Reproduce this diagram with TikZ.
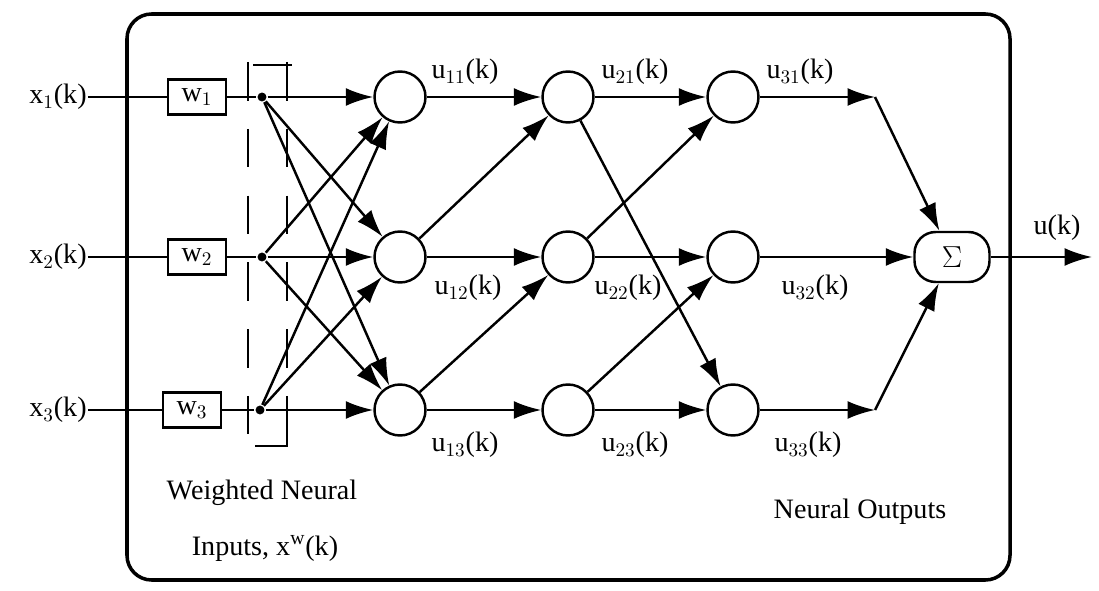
\documentclass[tikz,border=0pt]{standalone}
\usepackage{fontspec}
\setmainfont{Liberation Serif}
\usetikzlibrary{arrows.meta}
\begin{document}
\begin{tikzpicture}[x=0.02cm,y=-0.02cm, >={Latex[length=5.5mm,width=3.6mm]}, line width=1.4pt,
  neuron/.style={draw, circle, minimum size=1.02cm, inner sep=0pt},
  wbox/.style={draw, minimum width=1.15cm, minimum height=0.7cm, inner sep=0pt},
  lbl/.style={font=\fontsize{16}{18}\selectfont, inner sep=0pt},
  junc/.style={fill=black, circle, inner sep=1.8pt}]

\useasboundingbox (0,0) rectangle (1099,591);
%\draw [lightgray, dashed](0,0) grid (1099,591);

\draw [line width=2pt, rounded corners=14pt] (127,14) rectangle (1010,580);

% inputs and weights
\node [lbl] (X1) at (58,97) {x$_1$(k)};
\node [lbl] (X2) at (58,257) {x$_2$(k)};
\node [lbl] (X3) at (58,410) {x$_3$(k)};
\node [wbox] (W1) at (197,97) {\fontsize{16}{18}\selectfont w$_1$};
\node [wbox] (W2) at (197,257) {\fontsize{16}{18}\selectfont w$_2$};
\node [wbox] (W3) at (192,410) {\fontsize{16}{18}\selectfont w$_3$};
\node [junc] (J1) at (262,97) {};
\node [junc] (J2) at (262,257) {};
\node [junc] (J3) at (260,410) {};

% neurons
\node [neuron] (A1) at (400,97) {};
\node [neuron] (A2) at (400,257) {};
\node [neuron] (A3) at (400,410) {};
\node [neuron] (B1) at (568,97) {};
\node [neuron] (B2) at (568,257) {};
\node [neuron] (B3) at (568,410) {};
\node [neuron] (C1) at (733,97) {};
\node [neuron] (C2) at (733,257) {};
\node [neuron] (C3) at (733,410) {};
\node [draw, rounded corners=12pt, minimum width=1.5cm, minimum height=1cm] (S) at (952,257) {\fontsize{16}{18}\selectfont $\Sigma$};
\coordinate (K1) at (875,97);
\coordinate (K3) at (875,410);
\coordinate (Y) at (1092,257);

\draw (X1) -- (W1);
\draw (X2) -- (W2);
\draw (X3) -- (W3);
\draw (W1) -- (J1);
\draw (W2) -- (J2);
\draw (W3) -- (J3);

\foreach \i in {1,2,3}
  \foreach \j in {1,2,3}
    \draw [->] (J\i) -- (A\j);

\draw [->] (A1) -- (B1);
\draw [->] (A2) -- (B1);
\draw [->] (A2) -- (B2);
\draw [->] (A3) -- (B2);
\draw [->] (A3) -- (B3);

\draw [->] (B1) -- (C1);
\draw [->] (B1) -- (C3);
\draw [->] (B2) -- (C1);
\draw [->] (B2) -- (C2);
\draw [->] (B3) -- (C2);
\draw [->] (B3) -- (C3);

\draw [->] (C1) -- (K1);
\draw [->] (C3) -- (K3);
\draw [->] (C2) -- (S);
\draw [->] (K1) -- (S);
\draw [->] (K3) -- (S);
\draw [->] (S) -- (Y);

% dashed frame of weighted inputs
\draw [dash pattern=on 22pt off 16pt] (248,62) -- (248,452);
\draw [dash pattern=on 22pt off 16pt] (287,62) -- (287,448);
\draw (253,65) -- (292,65);
\draw (255,446) -- (287,446) -- (287,425);

% labels
\node [lbl] at (465,72) {u$_{11}$(k)};
\node [lbl] at (468,288) {u$_{12}$(k)};
\node [lbl] at (465,445) {u$_{13}$(k)};
\node [lbl] at (635,72) {u$_{21}$(k)};
\node [lbl] at (628,288) {u$_{22}$(k)};
\node [lbl] at (635,445) {u$_{23}$(k)};
\node [lbl] at (800,72) {u$_{31}$(k)};
\node [lbl] at (815,288) {u$_{32}$(k)};
\node [lbl] at (808,445) {u$_{33}$(k)};
\node [lbl] at (1057,228) {u(k)};
\node [lbl] at (262,493) {Weighted Neural};
\node [lbl] at (265,548) {Inputs, x$^{\rm w}$(k)};
\node [lbl] at (860,512) {Neural Outputs};

\end{tikzpicture}
\end{document}
